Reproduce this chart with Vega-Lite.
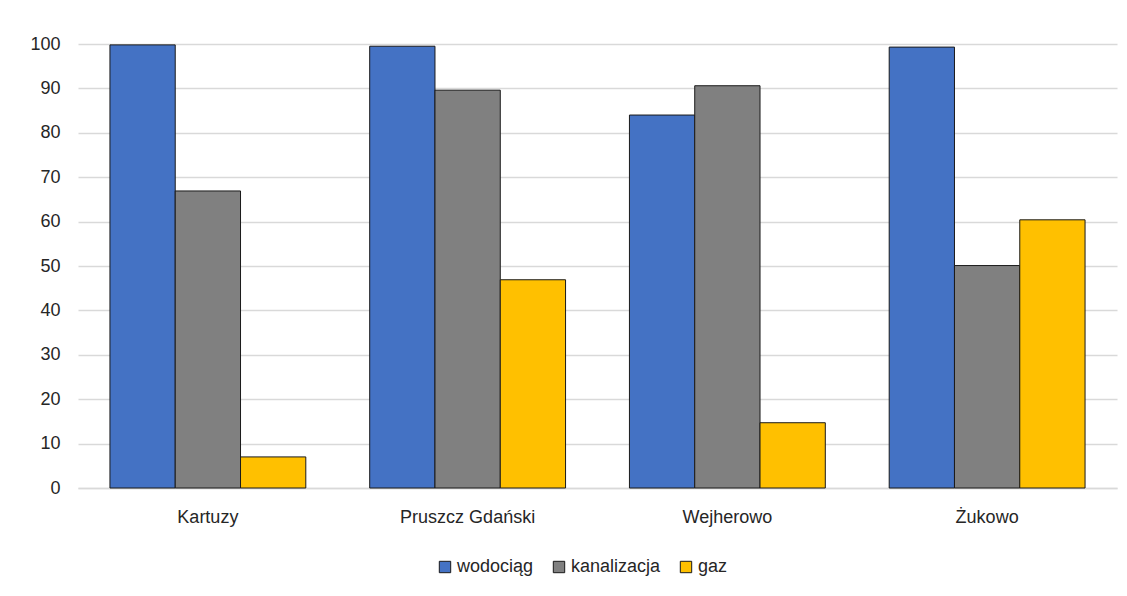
{
  "$schema": "https://vega.github.io/schema/vega-lite/v6.json",
  "width": 1039,
  "height": 444,
  "autosize": {"type": "none"},
  "padding": {"left": 78, "top": 44, "right": 10, "bottom": 108},
  "background": "white",
  "data": {"values": [
    {"miasto": "Kartuzy", "typ": "wodociąg", "v": 99.8},
    {"miasto": "Kartuzy", "typ": "kanalizacja", "v": 66.9},
    {"miasto": "Kartuzy", "typ": "gaz", "v": 7.0},
    {"miasto": "Pruszcz Gdański", "typ": "wodociąg", "v": 99.5},
    {"miasto": "Pruszcz Gdański", "typ": "kanalizacja", "v": 89.6},
    {"miasto": "Pruszcz Gdański", "typ": "gaz", "v": 46.9},
    {"miasto": "Wejherowo", "typ": "wodociąg", "v": 84.0},
    {"miasto": "Wejherowo", "typ": "kanalizacja", "v": 90.6},
    {"miasto": "Wejherowo", "typ": "gaz", "v": 14.7},
    {"miasto": "Żukowo", "typ": "wodociąg", "v": 99.3},
    {"miasto": "Żukowo", "typ": "kanalizacja", "v": 50.1},
    {"miasto": "Żukowo", "typ": "gaz", "v": 60.4}
  ]},
  "mark": {"type": "bar", "stroke": "#1a1a1a", "strokeWidth": 1},
  "encoding": {
    "x": {"field": "miasto", "type": "nominal", "sort": ["Kartuzy", "Pruszcz Gdański", "Wejherowo", "Żukowo"],
      "scale": {"paddingInner": 0.246, "paddingOuter": 0.123},
      "axis": {"title": null, "labelAngle": 0, "ticks": false, "domain": true, "domainColor": "#d9d9d9", "domainWidth": 1.5, "labelPadding": 20, "labelFontSize": 18, "labelColor": "#262626", "labelFont": "Liberation Sans"}},
    "xOffset": {"field": "typ", "sort": ["wodociąg", "kanalizacja", "gaz"]},
    "y": {"field": "v", "type": "quantitative", "scale": {"domain": [0, 100]},
      "axis": {"title": null, "values": [0,10,20,30,40,50,60,70,80,90,100], "domain": false, "ticks": false, "gridColor": "#d9d9d9", "gridWidth": 1.5, "labelPadding": 18, "labelFontSize": 18, "labelColor": "#262626", "labelFont": "Liberation Sans"}},
    "color": {"field": "typ", "type": "nominal", "sort": ["wodociąg", "kanalizacja", "gaz"],
      "scale": {"domain": ["wodociąg", "kanalizacja", "gaz"], "range": ["#4472C4", "#808080", "#FFC000"]},
      "legend": {"title": null, "orient": "none", "legendX": 358, "legendY": 514, "direction": "horizontal", "symbolType": "square", "symbolSize": 130, "symbolStrokeColor": "#1a1a1a", "symbolStrokeWidth": 1, "labelFontSize": 18, "labelColor": "#262626", "labelFont": "Liberation Sans", "columnPadding": 16, "labelOffset": 3}}
  },
  "config": {"view": {"stroke": null}}
}
